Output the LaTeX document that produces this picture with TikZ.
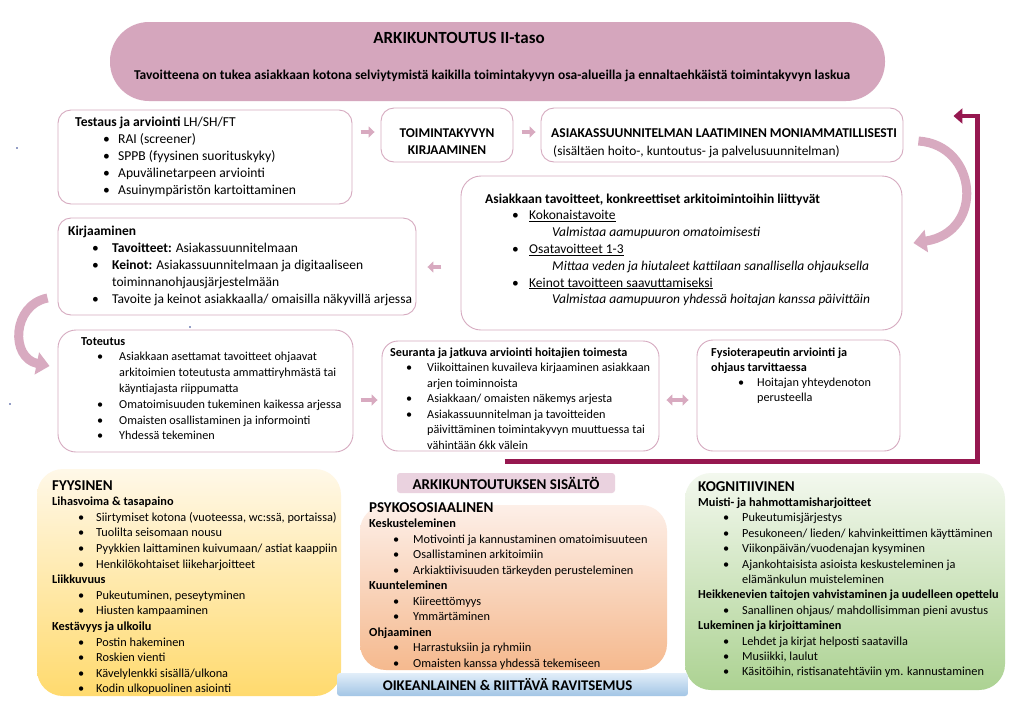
\documentclass[tikz,border=0pt]{standalone}
\usepackage{fontspec}
\setmainfont{Carlito}
\usetikzlibrary{arrows.meta,calc}
\definecolor{pinkline}{RGB}{214,170,192}
\definecolor{bannerfill}{RGB}{213,166,189}
\definecolor{arrowpink}{RGB}{216,170,192}
\definecolor{darkred}{RGB}{150,24,80}
\definecolor{labelfill}{RGB}{234,210,223}
\definecolor{ytop}{RGB}{255,248,232}
\definecolor{ybot}{RGB}{255,218,110}
\definecolor{otop}{RGB}{253,239,232}
\definecolor{obot}{RGB}{245,185,142}
\definecolor{gtop}{RGB}{243,248,238}
\definecolor{gbot}{RGB}{172,210,146}
\definecolor{btop}{RGB}{226,238,249}
\definecolor{bbot}{RGB}{162,197,229}
\definecolor{dotblue}{RGB}{40,60,140}
\newcommand\bl[3]{\hspace*{#1pt}\makebox[\dimexpr #2pt-#1pt\relax][l]{\textbullet}#3\par}
\newcommand\cl[2]{\hspace*{#1pt}#2\par}
\newcommand\tb[3]{\parbox[t]{600pt}{\fontsize{#1}{#2}\selectfont\raggedright\parindent=0pt\relax #3}}
\tikzset{
  wbox/.style={draw=pinkline, line width=0.9pt, rounded corners=13pt, fill=white, inner sep=0pt},
  txt/.style={anchor=base west, inner sep=0pt},
  blockarrow/.style={draw=arrowpink, line width=4.5pt, -{Triangle[length=6pt,width=11pt]}},
  dblarrow/.style={draw=arrowpink, line width=4.5pt, {Triangle[length=6pt,width=11pt]}-{Triangle[length=6pt,width=11pt]}},
  curvearrow/.style={draw=arrowpink, line width=9pt, -{Triangle[length=13pt,width=22pt]}},
  darkline/.style={draw=darkred, line width=4.5pt, -{Triangle[length=9pt,width=15pt]}},
  cbox/.style={rounded corners=26pt, inner sep=0pt},
}
\begin{document}
\begin{tikzpicture}[x=1pt,y=-1pt]
\useasboundingbox[fill=white] (0,0) rectangle (1024,710);

% banner
\node[fill=bannerfill, rounded corners=39pt, minimum width=775pt, minimum height=79pt, inner sep=0pt] (banner) at (497.5,61.5) {};
\node (title) at (459,38) {\fontsize{17}{20}\selectfont\bfseries ARKIKUNTOUTUS II-taso};
\node (subtitle) at (492,76) {\fontsize{13.5}{15}\selectfont\bfseries Tavoitteena on tukea asiakkaan kotona selviytymistä kaikilla toimintakyvyn osa-alueilla ja ennaltaehkäistä toimintakyvyn laskua};

% white boxes
\node[wbox, minimum width=294pt, minimum height=94pt] (testaus) at (205,157) {};
\node[wbox, minimum width=132pt, minimum height=54pt] (toimkirj) at (447,135) {};
\node[wbox, minimum width=362pt, minimum height=54pt] (asiakas) at (722,135) {};
\node[wbox, minimum width=441pt, minimum height=154pt, rounded corners=20pt] (tavoitteet) at (681.5,253) {};
\node[wbox, minimum width=358pt, minimum height=97pt] (kirjaaminen) at (237,266.5) {};
\node[wbox, minimum width=295pt, minimum height=122pt, rounded corners=18pt] (toteutus) at (205.5,391) {};
\node[wbox, minimum width=277pt, minimum height=110pt, rounded corners=16pt] (seuranta) at (520.5,396) {};
\node[wbox, minimum width=203pt, minimum height=111pt, rounded corners=16pt] (fysio) at (798.5,395.5) {};

% texts of white boxes
\node[txt] (t-testaus) at (75,126) {\tb{13.6}{17}{\textbf{Testaus ja arviointi} LH/SH/FT\par
\bl{28}{43}{RAI (screener)}
\bl{28}{43}{SPPB (fyysinen suorituskyky)}
\bl{28}{43}{Apuvälinetarpeen arviointi}
\bl{28}{43}{Asuinympäristön kartoittaminen}}};
\node[font=\fontsize{13.4}{17}\selectfont\bfseries, align=center, inner sep=0pt] (t-toim) at (447,141.5) {TOIMINTAKYVYN\\KIRJAAMINEN};
\node[txt] (t-asiak) at (551,137) {\tb{13.5}{18}{\textbf{ASIAKASSUUNNITELMAN LAATIMINEN MONIAMMATILLISESTI}\par
\cl{2}{\fontsize{13.4}{18}\selectfont(sisältäen hoito-, kuntoutus- ja palvelusuunnitelman)}}};
\node[txt] (t-tav) at (485,203) {\tb{13.5}{16.8}{\textbf{Asiakkaan tavoitteet, konkreettiset arkitoimintoihin liittyvät}\par
\bl{27}{44}{\underline{Kokonaistavoite}}
\cl{67}{\textit{Valmistaa aamupuuron omatoimisesti}}
\bl{27}{44}{\underline{Osatavoitteet 1-3}}
\cl{67}{\textit{Mittaa veden ja hiutaleet kattilaan sanallisella ohjauksella}}
\bl{27}{44}{\underline{Keinot tavoitteen saavuttamiseksi}}
\cl{67}{\textit{Valmistaa aamupuuron yhdessä hoitajan kanssa päivittäin}}}};
\node[txt] (t-kirj) at (68,235) {\tb{13.5}{17}{\textbf{Kirjaaminen}\par
\bl{24}{44}{\textbf{Tavoitteet:} Asiakassuunnitelmaan}
\bl{24}{44}{\textbf{Keinot:} Asiakassuunnitelmaan ja digitaaliseen}
\cl{44}{toiminnanohjausjärjestelmään}
\bl{24}{44}{Tavoite ja keinot asiakkaalla/ omaisilla näkyvillä arjessa}}};
\node[txt] (t-tot) at (81,345) {\tb{12.2}{15.8}{\textbf{Toteutus}\par
\bl{16}{38}{Asiakkaan asettamat tavoitteet ohjaavat}
\cl{38}{arkitoimien toteutusta ammattiryhmästä tai}
\cl{38}{käyntiajasta riippumatta}
\bl{16}{38}{Omatoimisuuden tukeminen kaikessa arjessa}
\bl{16}{38}{Omaisten osallistaminen ja informointi}
\bl{16}{38}{Yhdessä tekeminen}}};
\node[txt] (t-seur) at (390,356) {\tb{12.2}{15.5}{\textbf{Seuranta ja jatkuva arviointi hoitajien toimesta}\par
\bl{16}{37}{Viikoittainen kuvaileva kirjaaminen asiakkaan}
\cl{37}{arjen toiminnoista}
\bl{16}{37}{Asiakkaan/ omaisten näkemys arjesta}
\bl{16}{37}{Asiakassuunnitelman ja tavoitteiden}
\cl{37}{päivittäminen toimintakyvyn muuttuessa tai}
\cl{37}{vähintään 6kk välein}}};
\node[txt] (t-fys) at (711,356) {\tb{12.2}{15.3}{\textbf{Fysioterapeutin arviointi ja}\par
\textbf{ohjaus tarvittaessa}\par
\bl{27}{46}{Hoitajan yhteydenoton}
\cl{46}{perusteella}}};

% small block arrows
\draw[blockarrow] ($(toimkirj.west)+(-20,-3)$) -- ($(toimkirj.west)+(-6,-3)$);
\draw[blockarrow] ($(asiakas.west)+(-19,-3)$) -- ($(asiakas.west)+(-5,-3)$);
\draw[blockarrow] ($(kirjaaminen.east)+(25,0.5)$) -- ($(kirjaaminen.east)+(11,0.5)$);
\draw[blockarrow] ($(seuranta.west)+(-21,4)$) -- ($(seuranta.west)+(-4,4)$);
\draw[dblarrow] ($(seuranta.east)+(7,4)$) -- ($(fysio.west)+(-8,4.5)$);

% curved arrows
\draw[curvearrow] ($(asiakas.east)+(15,6)$) .. controls (978,145) and (985,232) .. ($(tavoitteet.east)+(11,-10)$);
\draw[curvearrow] ($(kirjaaminen.west)+(-10,31.5)$) .. controls (12,305) and (10,358) .. ($(toteutus.west)+(-8,-25)$);

% dark red feedback connector
\draw[darkline] ($(seuranta.south)+(-16,10)$) -| ($(asiakas.east)+(74,-19)$) -- ($(asiakas.east)+(50,-19)$);

% bottom content boxes
\node[cbox, top color=ytop, bottom color=ybot, minimum width=304pt, minimum height=227pt] (fyys) at (189,582.5) {};
\node[cbox, top color=otop, bottom color=obot, minimum width=307pt, minimum height=165pt] (psyko) at (513.5,587.5) {};
\node[cbox, top color=gtop, bottom color=gbot, minimum width=320pt, minimum height=217pt] (kogn) at (845,581.5) {};
\node[fill=labelfill, rounded corners=3pt, minimum width=218pt, minimum height=20pt, inner sep=0pt] (sisalto) at (506,483) {};
\node (t-sisalto) at (sisalto.center) {\fontsize{15}{17}\selectfont\bfseries ARKIKUNTOUTUKSEN SISÄLTÖ};
\node[top color=btop, bottom color=bbot, rounded corners=3pt, minimum width=351pt, minimum height=23pt, inner sep=0pt] (ravits) at (512.5,684.5) {};
\node (t-ravits) at ($(ravits.center)+(-5,0)$) {\fontsize{14.8}{17}\selectfont\bfseries OIKEANLAINEN \& RIITTÄVÄ RAVITSEMUS};

\node[txt] (t-fyys) at (52,490) {\tb{12.3}{15.6}{{\fontsize{15}{15.6}\selectfont\textbf{FYYSINEN}\par}
\textbf{Lihasvoima \& tasapaino}\par
\bl{26}{44}{Siirtymiset kotona (vuoteessa, wc:ssä, portaissa)}
\bl{26}{44}{Tuolilta seisomaan nousu}
\bl{26}{44}{Pyykkien laittaminen kuivumaan/ astiat kaappiin}
\bl{26}{44}{Henkilökohtaiset liikeharjoitteet}
\textbf{Liikkuvuus}\par
\bl{26}{44}{Pukeutuminen, peseytyminen}
\bl{26}{44}{Hiusten kampaaminen}
\textbf{Kestävyys ja ulkoilu}\par
\bl{26}{44}{Postin hakeminen}
\bl{26}{44}{Roskien vienti}
\bl{26}{44}{Kävelylenkki sisällä/ulkona}
\bl{26}{44}{Kodin ulkopuolinen asiointi}}};
\node[txt] (t-psyko) at (369,512) {\tb{12.3}{15.5}{{\fontsize{15}{15.5}\selectfont\textbf{PSYKOSOSIAALINEN}\par}
\textbf{Keskusteleminen}\par
\bl{24}{44}{Motivointi ja kannustaminen omatoimisuuteen}
\bl{24}{44}{Osallistaminen arkitoimiin}
\bl{24}{44}{Arkiaktiivisuuden tärkeyden perusteleminen}
\textbf{Kuunteleminen}\par
\bl{24}{44}{Kiireettömyys}
\bl{24}{44}{Ymmärtäminen}
\textbf{Ohjaaminen}\par
\bl{24}{44}{Harrastuksiin ja ryhmiin}
\bl{24}{44}{Omaisten kanssa yhdessä tekemiseen}}};
\node[txt] (t-kogn) at (698,491) {\tb{12.3}{15.4}{{\fontsize{15}{15.4}\selectfont\textbf{KOGNITIIVINEN}\par}
\textbf{Muisti- ja hahmottamisharjoitteet}\par
\bl{25}{44}{Pukeutumisjärjestys}
\bl{25}{44}{Pesukoneen/ lieden/ kahvinkeittimen käyttäminen}
\bl{25}{44}{Viikonpäivän/vuodenajan kysyminen}
\bl{25}{44}{Ajankohtaisista asioista keskusteleminen ja}
\cl{44}{elämänkulun muisteleminen}
\textbf{Heikkenevien taitojen vahvistaminen ja uudelleen opettelu}\par
\bl{25}{44}{Sanallinen ohjaus/ mahdollisimman pieni avustus}
\textbf{Lukeminen ja kirjoittaminen}\par
\bl{25}{44}{Lehdet ja kirjat helposti saatavilla}
\bl{25}{44}{Musiikki, laulut}
\bl{25}{44}{Käsitöihin, ristisanatehtäviin ym. kannustaminen}}};

% stray dots
\fill[dotblue] (17,148) circle (0.8);
\fill[dotblue] (190,327) circle (0.8);
\fill[dotblue] (10,404) circle (0.8);
\end{tikzpicture}
\end{document}
